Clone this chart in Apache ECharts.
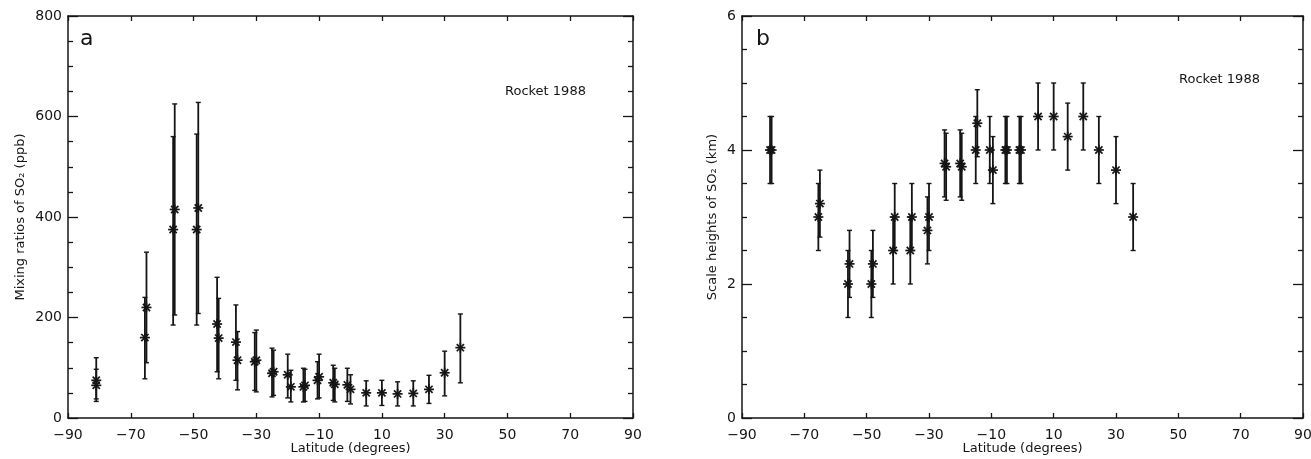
<!DOCTYPE html>
<html>
<head>
<meta charset="utf-8">
<script src="https://cdn.jsdelivr.net/npm/echarts@6/dist/echarts.min.js"></script>
<style>
  html, body { margin: 0; padding: 0; background: #fff; }
  #chart { width: 1311px; height: 459px; }
</style>
</head>
<body>
<div id="chart"></div>
<script>
// Panel a: SO2 mixing ratios (ppb) with error bar ends
const latA     = [-81, -81, -65.5, -65, -56.5, -56, -49, -48.5, -42.5, -42, -36.5, -36, -30.5, -30, -25, -24.5, -20, -19, -15, -14.5, -10.5, -10, -5.5, -5, -1, 0, 5, 10, 15, 20, 25, 30, 35];
const mixA     = [75, 65, 160, 220, 375, 415, 375, 418, 187, 159, 151, 115, 112, 115, 89, 92, 86, 62, 62, 65, 75, 82, 70, 67, 66, 57, 50, 50, 48, 49, 57, 90, 140];
const mixLowA  = [38, 33, 78, 110, 185, 205, 185, 208, 92, 78, 75, 56, 55, 52, 42, 45, 40, 32, 32, 33, 38, 40, 35, 32, 33, 28, 24, 25, 24, 24, 29, 44, 70];
const mixHighA = [120, 97, 240, 330, 560, 625, 565, 628, 280, 238, 225, 172, 170, 175, 139, 135, 127, 95, 99, 97, 112, 127, 105, 99, 99, 86, 74, 75, 72, 74, 85, 133, 207];

// Panel b: SO2 scale heights (km) with error bar ends
const latB     = [-81, -80.5, -65.5, -65, -56, -55.5, -48.5, -48, -41.5, -41, -36, -35.5, -30.5, -30, -25, -24.5, -20, -19.5, -15, -14.5, -10.5, -9.5, -5.5, -5, -1, -0.5, 5, 10, 14.5, 19.5, 24.5, 30, 35.5];
const shB      = [4.0, 4.0, 3.0, 3.2, 2.0, 2.3, 2.0, 2.3, 2.5, 3.0, 2.5, 3.0, 2.8, 3.0, 3.8, 3.75, 3.8, 3.75, 4.0, 4.4, 4.0, 3.7, 4.0, 4.0, 4.0, 4.0, 4.5, 4.5, 4.2, 4.5, 4.0, 3.7, 3.0];
const shLowB   = [3.5, 3.5, 2.5, 2.7, 1.5, 1.8, 1.5, 1.8, 2.0, 2.5, 2.0, 2.5, 2.3, 2.5, 3.3, 3.25, 3.3, 3.25, 3.5, 3.9, 3.5, 3.2, 3.5, 3.5, 3.5, 3.5, 4.0, 4.0, 3.7, 4.0, 3.5, 3.2, 2.5];
const shHighB  = [4.5, 4.5, 3.5, 3.7, 2.5, 2.8, 2.5, 2.8, 3.0, 3.5, 3.0, 3.5, 3.3, 3.5, 4.3, 4.25, 4.3, 4.25, 4.5, 4.9, 4.5, 4.2, 4.5, 4.5, 4.5, 4.5, 5.0, 5.0, 4.7, 5.0, 4.5, 4.2, 3.5];

// Axis settings
const latMin = -90, latMax = 90, latStep = 20;
const mixMax = 800, mixStep = 200;
const shMax = 6, shStep = 2;

const INK = '#151515';
const FONT = 'DejaVu Sans';

function minusFmt(v) { return String(v).replace('-', '\u2212'); }

function xAxes(gi, name) {
  const common = {
    type: 'value', gridIndex: gi, min: latMin, max: latMax, interval: latStep,
    axisLine: { show: true, onZero: false, lineStyle: { color: INK, width: 1.5 } },
    axisTick: { show: true, inside: true, length: 5, lineStyle: { color: INK, width: 1.3 } },
    splitLine: { show: false }
  };
  return [
    Object.assign({}, common, {
      position: 'bottom',
      axisLabel: { margin: 10, fontSize: 14, color: INK, fontFamily: FONT, formatter: minusFmt },
      name: name, nameLocation: 'middle', nameGap: 24, nameMoveOverlap: false,
      nameTextStyle: { fontSize: 13, color: INK, fontFamily: FONT }
    }),
    Object.assign({}, common, { position: 'top', axisLabel: { show: false } })
  ];
}

function yAxes(gi, max, step, name, gap) {
  const common = {
    type: 'value', gridIndex: gi, min: 0, max: max, interval: step,
    axisLine: { show: true, onZero: false, lineStyle: { color: INK, width: 1.5 } },
    axisTick: { show: true, inside: true, length: 10, lineStyle: { color: INK, width: 1.3 } },
    minorTick: { show: true, splitNumber: 4, length: 5, lineStyle: { color: INK, width: 1.3 } },
    splitLine: { show: false }, minorSplitLine: { show: false }
  };
  return [
    Object.assign({}, common, {
      position: 'left',
      axisLabel: { margin: 6, fontSize: 14, color: INK, fontFamily: FONT },
      name: name, nameLocation: 'middle', nameGap: gap, nameMoveOverlap: false,
      nameTextStyle: { fontSize: 13, color: INK, fontFamily: FONT }
    }),
    Object.assign({}, common, { position: 'right', axisLabel: { show: false } })
  ];
}

// Error bar with end caps and an asterisk marker at the value
function renderStarBar(params, api) {
  const x = api.value(0);
  const p = api.coord([x, api.value(1)]);
  const lo = api.coord([x, api.value(2)]);
  const hi = api.coord([x, api.value(3)]);
  const cap = 2.5, r = 5, d = r * 0.72;
  const st = { stroke: INK, lineWidth: 1.7 };
  const line = (x1, y1, x2, y2, w) => ({
    type: 'line', shape: { x1: x1, y1: y1, x2: x2, y2: y2 },
    style: Object.assign({}, st, w ? { lineWidth: w } : {})
  });
  return {
    type: 'group',
    children: [
      line(lo[0], lo[1], hi[0], hi[1], 1.8),
      line(hi[0] - cap, hi[1], hi[0] + cap, hi[1], 1.4),
      line(lo[0] - cap, lo[1], lo[0] + cap, lo[1], 1.4),
      line(p[0] - r, p[1], p[0] + r, p[1]),
      line(p[0], p[1] - r, p[0], p[1] + r),
      line(p[0] - d, p[1] - d, p[0] + d, p[1] + d),
      line(p[0] - d, p[1] + d, p[0] + d, p[1] - d)
    ]
  };
}

function rows(lat, v, lo, hi) {
  return lat.map((x, i) => [x, v[i], lo[i], hi[i]]);
}

const chart = echarts.init(document.getElementById('chart'), null, { renderer: 'canvas' });

chart.setOption({
  backgroundColor: '#fff',
  animation: false,
  grid: [
    { left: 68, top: 16, width: 565, height: 402, containLabel: false, outerBoundsMode: 'none' },
    { left: 742, top: 16, width: 561, height: 402, containLabel: false, outerBoundsMode: 'none' }
  ],
  xAxis: [].concat(xAxes(0, 'Latitude (degrees)'), xAxes(1, 'Latitude (degrees)')),
  yAxis: [].concat(
    yAxes(0, mixMax, mixStep, 'Mixing ratios of SO\u2082 (ppb)', 41),
    yAxes(1, shMax, shStep, 'Scale heights of SO\u2082 (km)', 23)
  ),
  series: [
    {
      type: 'custom', name: 'Mixing ratio', xAxisIndex: 0, yAxisIndex: 0,
      renderItem: renderStarBar, data: rows(latA, mixA, mixLowA, mixHighA)
    },
    {
      type: 'custom', name: 'Scale height', xAxisIndex: 2, yAxisIndex: 2,
      renderItem: renderStarBar, data: rows(latB, shB, shLowB, shHighB)
    }
  ],
  graphic: [
    { type: 'text', left: 80, top: 28, style: { text: 'a', fontSize: 22, fill: INK, fontFamily: FONT } },
    { type: 'text', left: 756, top: 28, style: { text: 'b', fontSize: 22, fill: INK, fontFamily: FONT } },
    { type: 'text', left: 505, top: 85, style: { text: 'Rocket 1988', fontSize: 13, fill: INK, fontFamily: FONT } },
    { type: 'text', left: 1179, top: 73, style: { text: 'Rocket 1988', fontSize: 13, fill: INK, fontFamily: FONT } }
  ]
});
</script>
</body>
</html>
